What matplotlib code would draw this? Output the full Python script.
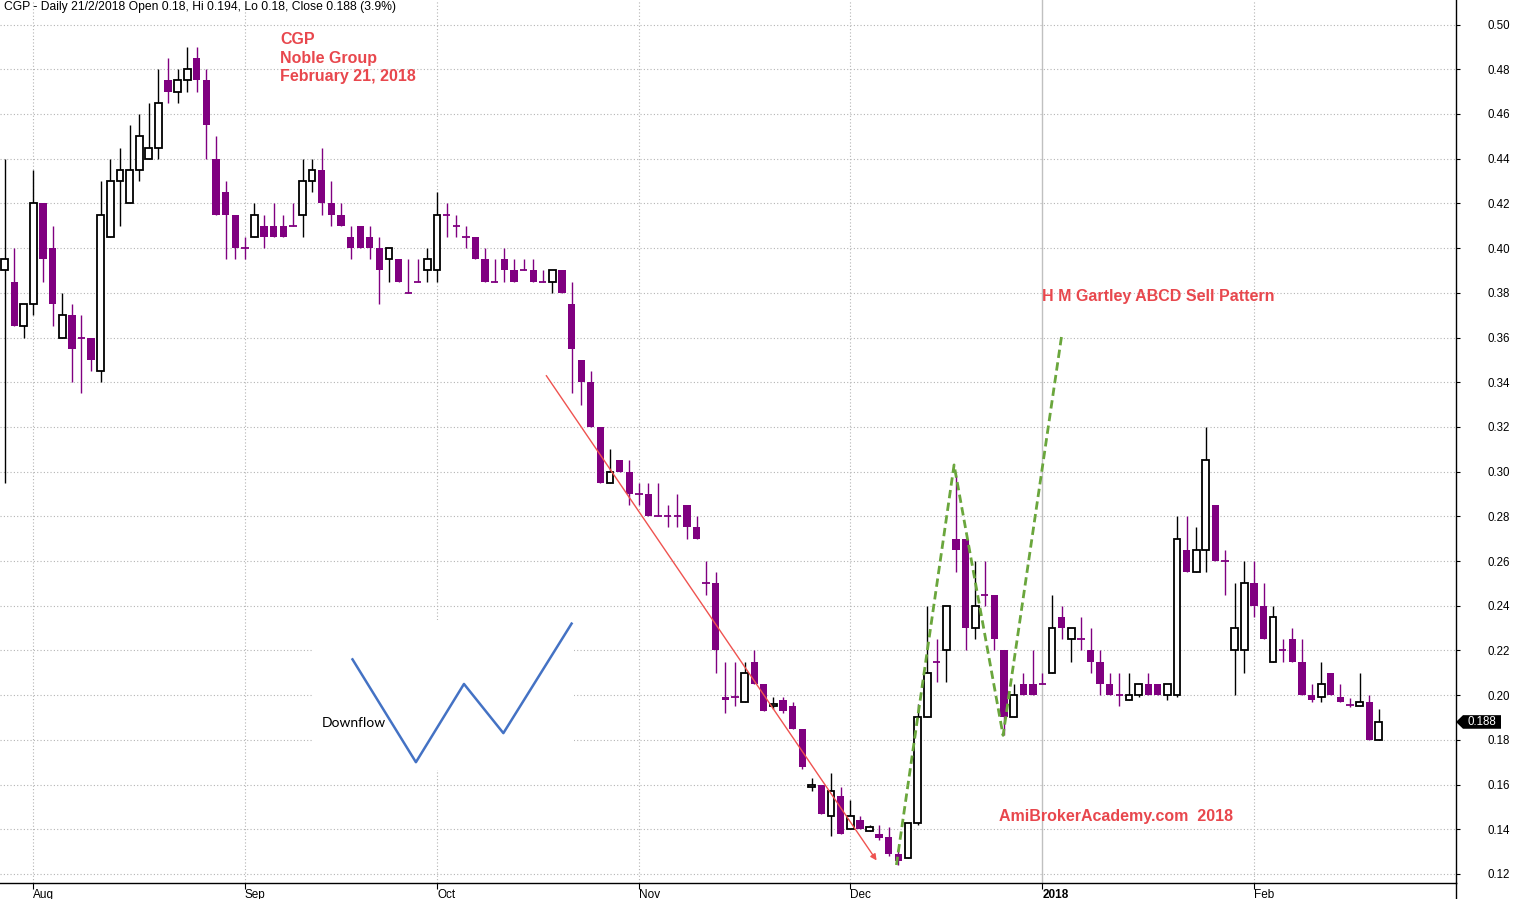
import matplotlib.pyplot as plt
from matplotlib.patches import Rectangle, Polygon
from matplotlib.transforms import blended_transform_factory

plt.rcParams['font.family'] = ['Liberation Sans', 'DejaVu Sans']

# ---------- Data (CGP daily, 27 Jul 2017 - 21 Feb 2018) ----------

opens = [0.39, 0.385, 0.365, 0.375, 0.42, 0.40, 0.36, 0.37, 0.36, 0.36,
         0.345, 0.405, 0.43, 0.42, 0.435, 0.44, 0.445, 0.475, 0.47, 0.475,
         0.485, 0.475, 0.44, 0.425, 0.415, 0.40, 0.405, 0.41, 0.41, 0.41,
         0.41, 0.415, 0.43, 0.435, 0.42, 0.415, 0.405, 0.41, 0.405, 0.40,
         0.395, 0.395, 0.38, 0.385, 0.39, 0.39, 0.415, 0.41, 0.405, 0.405,
         0.395, 0.385, 0.395, 0.39, 0.39, 0.39, 0.385, 0.385, 0.39, 0.375,
         0.35, 0.34, 0.32, 0.295, 0.305, 0.30, 0.29, 0.29, 0.28, 0.28,
         0.28, 0.285, 0.275, 0.25, 0.25, 0.199, 0.199, 0.197, 0.215, 0.205,
         0.195, 0.198, 0.195, 0.185, 0.159, 0.16, 0.146, 0.155, 0.14, 0.144,
         0.139, 0.138, 0.1365, 0.129, 0.127, 0.143, 0.19, 0.215, 0.22, 0.27,
         0.27, 0.23, 0.245, 0.245, 0.22, 0.19, 0.205, 0.205, 0.205, 0.21,
         0.235, 0.225, 0.225, 0.22, 0.215, 0.205, 0.20, 0.198, 0.20, 0.205,
         0.205, 0.20, 0.20, 0.265, 0.255, 0.265, 0.285, 0.26, 0.22, 0.22,
         0.25, 0.24, 0.215, 0.22, 0.225, 0.215, 0.20, 0.199, 0.21, 0.199,
         0.1955, 0.195, 0.197, 0.18]
highs = [0.44, 0.40, 0.375, 0.435, 0.42, 0.41, 0.38, 0.375, 0.37, 0.36,
         0.43, 0.44, 0.445, 0.455, 0.46, 0.465, 0.48, 0.485, 0.48, 0.49,
         0.49, 0.48, 0.45, 0.43, 0.415, 0.405, 0.42, 0.415, 0.42, 0.415,
         0.42, 0.44, 0.44, 0.445, 0.43, 0.42, 0.41, 0.41, 0.41, 0.405,
         0.40, 0.395, 0.395, 0.395, 0.40, 0.425, 0.42, 0.415, 0.41, 0.405,
         0.40, 0.395, 0.40, 0.395, 0.395, 0.395, 0.39, 0.39, 0.39, 0.385,
         0.35, 0.345, 0.32, 0.31, 0.305, 0.305, 0.295, 0.295, 0.295, 0.285,
         0.29, 0.285, 0.28, 0.26, 0.255, 0.215, 0.215, 0.215, 0.22, 0.205,
         0.199, 0.199, 0.197, 0.185, 0.163, 0.16, 0.165, 0.159, 0.153, 0.146,
         0.142, 0.142, 0.141, 0.131, 0.143, 0.196, 0.24, 0.225, 0.24, 0.298,
         0.27, 0.26, 0.26, 0.245, 0.22, 0.205, 0.21, 0.22, 0.21, 0.245,
         0.24, 0.23, 0.235, 0.23, 0.22, 0.21, 0.21, 0.21, 0.205, 0.21,
         0.205, 0.205, 0.28, 0.28, 0.275, 0.32, 0.285, 0.265, 0.25, 0.26,
         0.26, 0.25, 0.24, 0.225, 0.23, 0.225, 0.205, 0.215, 0.21, 0.205,
         0.1985, 0.21, 0.20, 0.194]
lows = [0.295, 0.365, 0.36, 0.37, 0.385, 0.365, 0.36, 0.34, 0.335, 0.345,
        0.34, 0.405, 0.41, 0.42, 0.43, 0.44, 0.44, 0.465, 0.465, 0.47,
        0.47, 0.44, 0.415, 0.395, 0.395, 0.395, 0.405, 0.40, 0.405, 0.405,
        0.41, 0.405, 0.425, 0.415, 0.41, 0.41, 0.395, 0.40, 0.395, 0.375,
        0.385, 0.385, 0.38, 0.385, 0.385, 0.385, 0.405, 0.405, 0.40, 0.395,
        0.385, 0.385, 0.385, 0.385, 0.39, 0.385, 0.385, 0.38, 0.38, 0.335,
        0.33, 0.32, 0.295, 0.295, 0.30, 0.285, 0.285, 0.28, 0.28, 0.275,
        0.275, 0.27, 0.27, 0.245, 0.21, 0.192, 0.195, 0.197, 0.205, 0.193,
        0.194, 0.192, 0.185, 0.167, 0.157, 0.147, 0.137, 0.138, 0.14, 0.14,
        0.139, 0.135, 0.128, 0.124, 0.127, 0.142, 0.19, 0.206, 0.206, 0.255,
        0.22, 0.225, 0.24, 0.22, 0.182, 0.19, 0.20, 0.20, 0.205, 0.21,
        0.225, 0.215, 0.22, 0.21, 0.20, 0.20, 0.195, 0.198, 0.199, 0.20,
        0.20, 0.198, 0.199, 0.255, 0.255, 0.255, 0.26, 0.245, 0.20, 0.21,
        0.235, 0.225, 0.215, 0.215, 0.215, 0.20, 0.197, 0.197, 0.20, 0.197,
        0.1945, 0.195, 0.18, 0.18]
closes = [0.395, 0.365, 0.375, 0.42, 0.395, 0.375, 0.37, 0.355, 0.36, 0.35,
          0.415, 0.43, 0.435, 0.435, 0.45, 0.445, 0.465, 0.47, 0.475, 0.48,
          0.475, 0.455, 0.415, 0.415, 0.40, 0.40, 0.415, 0.405, 0.405, 0.405,
          0.41, 0.43, 0.435, 0.42, 0.415, 0.41, 0.40, 0.40, 0.40, 0.39,
          0.40, 0.385, 0.38, 0.385, 0.395, 0.415, 0.415, 0.41, 0.405, 0.395,
          0.385, 0.385, 0.39, 0.385, 0.39, 0.385, 0.385, 0.39, 0.38, 0.355,
          0.34, 0.32, 0.295, 0.30, 0.30, 0.29, 0.29, 0.28, 0.28, 0.28,
          0.28, 0.275, 0.27, 0.25, 0.22, 0.198, 0.199, 0.21, 0.205, 0.193,
          0.196, 0.193, 0.185, 0.168, 0.16, 0.147, 0.157, 0.138, 0.146, 0.14,
          0.141, 0.136, 0.129, 0.126, 0.143, 0.19, 0.21, 0.215, 0.24, 0.265,
          0.23, 0.24, 0.245, 0.225, 0.19, 0.20, 0.20, 0.20, 0.205, 0.23,
          0.23, 0.23, 0.225, 0.215, 0.205, 0.20, 0.20, 0.20, 0.205, 0.20,
          0.20, 0.205, 0.27, 0.255, 0.265, 0.305, 0.26, 0.26, 0.23, 0.25,
          0.24, 0.225, 0.235, 0.22, 0.215, 0.20, 0.198, 0.205, 0.20, 0.197,
          0.1955, 0.197, 0.18, 0.188]

month_idx = [3, 25, 45, 66, 88, 108, 130]
month_labels = ['Aug', 'Sep', 'Oct', 'Nov', 'Dec', '2018', 'Feb']
price_ticks = [0.12, 0.14, 0.16, 0.18, 0.20, 0.22, 0.24, 0.26, 0.28, 0.30,
               0.32, 0.34, 0.36, 0.38, 0.40, 0.42, 0.44, 0.46, 0.48, 0.50]

# drawn studies (bar index, price)
trend_idx = [56.2, 90.9]
trend_price = [0.344, 0.125]
abcd_idx = [92.8, 98.8, 103.9, 110.0]
abcd_price = [0.124, 0.303, 0.182, 0.361]
flow_idx = [36.2, 42.8, 47.8, 51.9, 59.0]
flow_price = [0.216, 0.170, 0.205, 0.183, 0.232]

purple = '#800080'
red_txt = '#e8474d'

# ---------- Figure ----------

fig = plt.figure(figsize=(15.16, 8.99), dpi=100)
ax = fig.add_axes([0, 16 / 899, 1456 / 1516, 883 / 899])

ax.set_xlim(-0.48, 151.03)
ax.set_ylim(0.11595, 0.5110)

up_x, up_b, up_h = [], [], []
dn_x, dn_b, dn_h = [], [], []
dj_x, dj_y, dj_c = [], [], []

for i in range(len(opens)):
    o, h, l, c = opens[i], highs[i], lows[i], closes[i]
    col = 'black' if c > o else purple
    ax.vlines(i, l, h, color=col, lw=1.0, zorder=2)
    if abs(c - o) < 0.0007:
        dj_x.append(i)
        dj_y.append(c)
        dj_c.append(col)
    elif c > o:
        up_x.append(i)
        up_b.append(o)
        up_h.append(c - o)
    else:
        dn_x.append(i)
        dn_b.append(c)
        dn_h.append(o - c)

ax.bar(dn_x, dn_h, bottom=dn_b, width=0.76, color=purple, lw=0, zorder=3)
ax.bar(up_x, up_h, bottom=up_b, width=0.7, facecolor='white',
       edgecolor='black', lw=1.3, zorder=3)
ax.hlines(dj_y, [x - 0.38 for x in dj_x], [x + 0.38 for x in dj_x],
          colors=dj_c, lw=1.3, zorder=3)

# ---------- Axes styling ----------

ax.set_axisbelow(True)
ax.yaxis.tick_right()
ax.set_yticks(price_ticks)
ax.set_yticklabels([f'{p:.2f}' for p in price_ticks])
ax.tick_params(axis='y', length=3, width=0.8, pad=20, labelsize=8.3)
ax.set_xticks(month_idx)
ax.set_xticklabels(month_labels)
for lab in ax.get_xticklabels():
    lab.set_horizontalalignment('left')
    if lab.get_text() == '2018':
        lab.set_fontweight('bold')
ax.tick_params(axis='x', length=4, width=0.8, pad=0, labelsize=8.5)

ax.grid(True, ls=(0, (1, 2)), color='#b4b4b4', lw=0.8)
ax.xaxis.get_gridlines()[month_labels.index('2018')].set_visible(False)
ax.axvline(month_idx[month_labels.index('2018')], color='#c0c0c0', lw=1,
           zorder=0.6)

for s in ['left', 'top']:
    ax.spines[s].set_visible(False)
ax.spines['right'].set_linewidth(1.0)
ax.spines['bottom'].set_linewidth(1.0)
fig.add_artist(plt.Line2D([1456 / 1516, 1456 / 1516], [0, 16 / 899],
                          color='black', lw=1.0))

# ---------- Studies ----------

ax.annotate('', xy=(trend_idx[1], trend_price[1]),
            xytext=(trend_idx[0], trend_price[0]),
            arrowprops=dict(arrowstyle='-|>', color='#ef5350', lw=1,
                            mutation_scale=9), zorder=4)

ax.plot(abcd_idx, abcd_price, ls=(0, (3, 1.6)), color='#6aa63c', lw=2,
        zorder=4)

ax.add_patch(Rectangle((32.0, 0.1665), 27.2, 0.0671, facecolor='white',
                       edgecolor='none', zorder=1))
ax.plot(flow_idx, flow_price, color='#4472c4', lw=1.8, zorder=4)
ax.text(33.0, 0.1875, 'Downflow', fontsize=10, family=['Lato', 'DejaVu Sans'],
        va='center', ha='left', zorder=5)

# ---------- Texts ----------

ax.text(4 / 1456, 1 - 7 / 883,
        'CGP - Daily 21/2/2018 Open 0.18, Hi 0.194, Lo 0.18, Close 0.188 (3.9%)',
        transform=ax.transAxes, fontsize=8.7, va='center', ha='left')

for k, s in enumerate(['CGP', 'Noble Group', 'February 21, 2018']):
    ax.text(280 / 1456, 1 - (39 + 19 * k) / 883, s, transform=ax.transAxes,
            color=red_txt, fontsize=11.5, fontweight='bold', va='center')

ax.text(1042 / 1456, 1 - 296 / 883, 'H M Gartley ABCD Sell Pattern',
        transform=ax.transAxes, color=red_txt, fontsize=11.5,
        fontweight='bold', va='center')
ax.text(999 / 1456, 1 - 817 / 883, 'AmiBrokerAcademy.com  2018',
        transform=ax.transAxes, color=red_txt, fontsize=11.5,
        fontweight='bold', va='center')

# last price tag
tr = blended_transform_factory(ax.transAxes, ax.transData)
dpp = (0.5110 - 0.11595) / 883
last = closes[-1]
tag = Polygon([(1456 / 1456, last), (1463 / 1456, last + 6.8 * dpp),
               (1501 / 1456, last + 6.8 * dpp), (1501 / 1456, last - 6.8 * dpp),
               (1463 / 1456, last - 6.8 * dpp)], closed=True,
              facecolor='black', edgecolor='none', transform=tr, clip_on=False)
ax.add_patch(tag)
ax.text(1482 / 1456, last, f'{last:.3f}', transform=tr, color='white',
        fontsize=8.3, ha='center', va='center', clip_on=False)

fig.savefig('out.png', dpi=100)
